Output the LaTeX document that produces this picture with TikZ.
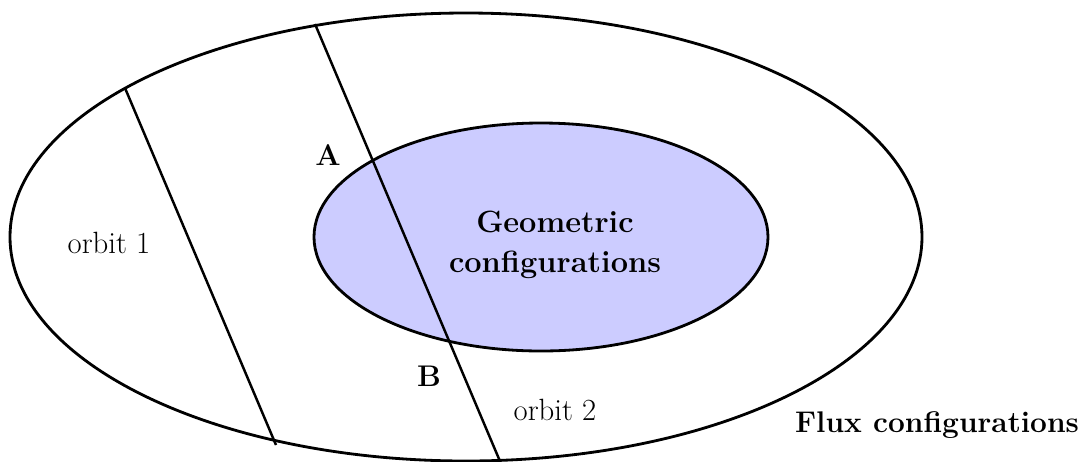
\documentclass[tikz,border=0pt]{standalone}
\begin{document}
\begin{tikzpicture}[x=0.02cm,y=-0.02cm,
  curve/.style={line width=1.6pt},
  cut/.style={line width=1.4pt},
  lbl/.style={font=\fontsize{17.5}{21}\selectfont, inner sep=0pt},
  blbl/.style={font=\fontsize{17}{21}\selectfont\bfseries, inner sep=0pt}]
\useasboundingbox (0,0) rectangle (1083,461);
\begin{scope}
\clip (0,0) rectangle (1083,461);
\draw[curve] (466,237) ellipse [x radius=456, y radius=224];
\filldraw[curve, fill=blue!20] (541,237) ellipse [x radius=227, y radius=114];
\coordinate (p1) at (125,88);
\coordinate (q1) at (276,445);
\coordinate (p2) at (315,24);
\coordinate (q2) at (502,466);
\draw[cut] (p1) -- (q1);
\draw[cut] (p2) -- (q2);
\end{scope}
\node[lbl] (o1) at (109,243) {orbit 1};
\node[lbl] (o2) at (555,410) {orbit 2};
\node[blbl] (A) at (328,155) {A};
\node[blbl] (B) at (429,376) {B};
\node[blbl, align=center, font=\fontsize{17.5}{23}\selectfont\bfseries] (G) at (555,245) {Geometric\\configurations};
\node[blbl] (F) at (937,425) {Flux configurations};
\end{tikzpicture}
\end{document}
